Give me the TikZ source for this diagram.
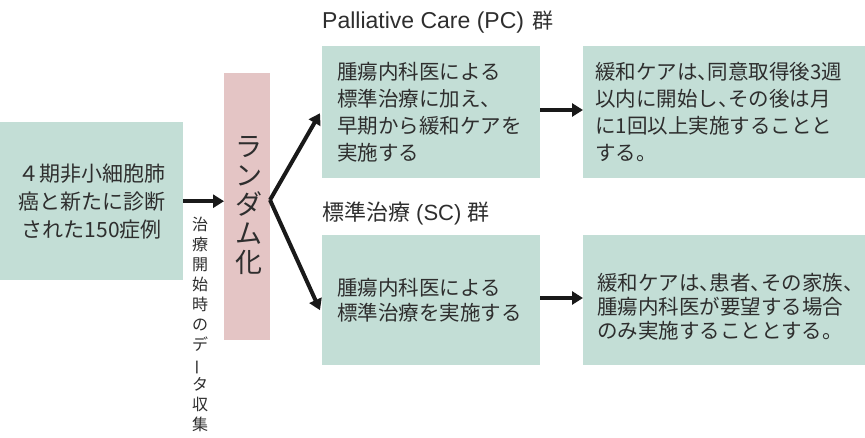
\documentclass[tikz,border=0pt]{standalone}
\usepackage{fontspec}
\setmainfont{Noto Sans CJK JP}
\newfontfamily\latinsf{Liberation Sans}
\usetikzlibrary{arrows.meta,calc}
\definecolor{tealfill}{HTML}{C3DED6}
\definecolor{pinkfill}{HTML}{E4C5C5}
\definecolor{txt}{HTML}{2E2E2E}
\newcommand\hc{\makebox[0.5em][l]{、}}
\tikzset{
  tealbox/.style={fill=tealfill, draw=none, anchor=north west, text=txt, inner ysep=0pt},
  pinkbox/.style={fill=pinkfill, draw=none, anchor=north west},
  arr/.style={draw=black!90, line width=4pt, -{Triangle[length=11pt,width=13pt]}},
  header/.style={anchor=west, text=txt, inner sep=0pt},
}
\begin{document}
\begin{tikzpicture}[x=1pt,y=-1pt]
\useasboundingbox (0,0) rectangle (865,437);
% left box
\node[tealbox, minimum width=183pt, minimum height=158pt, align=center,
  font=\fontsize{21}{28}\selectfont] (start) at (0,122)
  {４期非小細胞肺\\癌と新たに診断\\された150症例};
% randomization box
\node[pinkbox, minimum width=46pt, minimum height=267pt] (rand) at (224,73) {};
\node[text=txt, align=center, inner sep=0pt, font=\fontsize{27}{29}\selectfont] (randtxt) at (249,205)
  {ラ\\ン\\ダ\\ム\\化};
% vertical caption
\node[text=txt, align=center, anchor=north, inner sep=0pt, font=\fontsize{16}{20}\selectfont] (vcap) at (200,217)
  {治\\療\\開\\始\\時\\の\\デ\\\rotatebox[origin=c]{90}{ー}\\タ\\収\\集};
% headers
\node[header] (pchead) at (322,22)
  {{\latinsf\fontsize{23}{25}\selectfont Palliative Care (PC)}\hspace{8pt}{\fontsize{21}{25}\selectfont 群}};
\node[header] (schead) at (322,213)
  {\fontsize{22}{25}\selectfont 標準治療\hspace{6pt}{\latinsf\fontsize{22}{25}\selectfont (SC)}\hspace{6pt}群};
% PC boxes
\node[tealbox, minimum width=216pt, minimum height=132pt, text width=188pt, inner xsep=15pt,
  align=left, font=\fontsize{20.5}{27}\selectfont] (pc1) at (322,46)
  {腫瘍内科医による\\標準治療に加え\hc\\早期から緩和ケアを\\実施する};
\node[tealbox, minimum width=282pt, minimum height=132pt, text width=258pt, inner xsep=12pt,
  align=left, font=\fontsize{20.5}{27}\selectfont] (pc2) at (583,46)
  {緩和ケアは\hc 同意取得後3週\\以内に開始し\hc その後は月\\に1回以上実施することと\\する。};
% SC boxes
\node[tealbox, minimum width=216pt, minimum height=130pt, text width=188pt, inner xsep=15pt,
  align=left, font=\fontsize{20.5}{25}\selectfont] (sc1) at (322,235)
  {腫瘍内科医による\\標準治療を実施する};
\node[tealbox, minimum width=282pt, minimum height=130pt] (sc2) at (583,235) {};
\node[text=txt, anchor=west, inner sep=0pt, text width=258pt, align=left,
  font=\fontsize{20.5}{24}\selectfont] (sc2txt) at ($(sc2.west)+(14,7)$)
  {緩和ケアは\hc 患者\hc その家族\hc\\腫瘍内科医が要望する場合\\のみ実施することとする。};
% arrows
\draw[arr] (start.east) -- (rand.west |- start.east);
\coordinate (split) at (270,200);
\draw[arr] (split) -- ($(pc1.west)+(-2,1)$);
\draw[arr] (split) -- ($(sc1.west)+(-2,10)$);
\draw[arr] (pc1.east |- 0,110) -- (pc2.west |- 0,110);
\draw[arr] (sc1.east |- 0,298) -- (sc2.west |- 0,298);
\end{tikzpicture}
\end{document}
